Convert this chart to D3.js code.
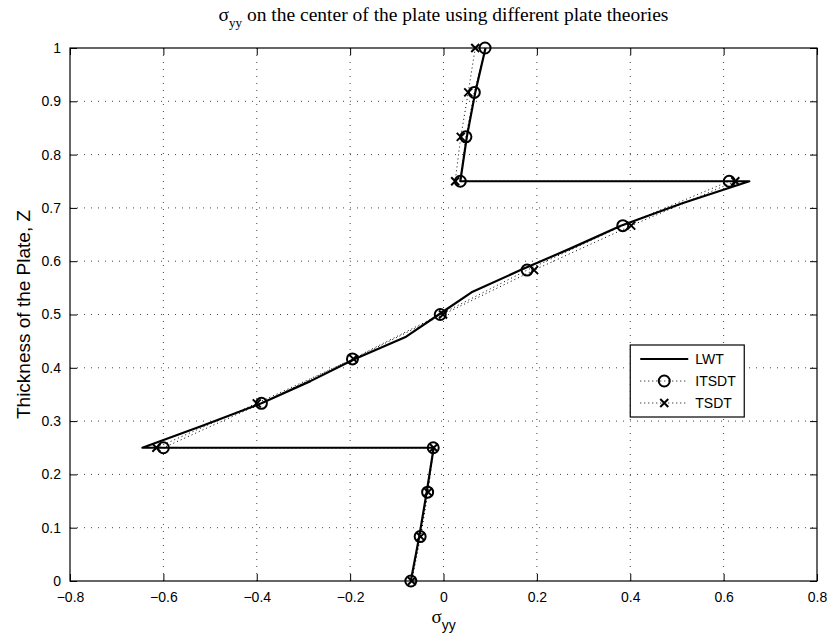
<!DOCTYPE html>
<html>
<head>
<meta charset="utf-8">
<script src="https://cdn.jsdelivr.net/npm/d3@7"></script>
<style>
  body { margin: 0; background: #fff; }
  text { fill: #000; }
</style>
</head>
<body>
<svg id="chart" width="833" height="638"></svg>
<script>
// Axis ticks
const xTicks = [-0.8, -0.6, -0.4, -0.2, 0, 0.2, 0.4, 0.6, 0.8];
const yTicks = [0, 0.1, 0.2, 0.3, 0.4, 0.5, 0.6, 0.7, 0.8, 0.9, 1];

// Thickness coordinates of the sampled points (three layers, interfaces repeated)
const plateZ = [0, 1/12, 2/12, 3/12,
                3/12, 4/12, 5/12, 6/12, 7/12, 8/12, 9/12,
                9/12, 10/12, 11/12, 1];

// sigma_yy by ITSDT
const itsdtS = [-0.070, -0.050, -0.034, -0.022,
                -0.600, -0.390, -0.195, -0.007, 0.179, 0.384, 0.612,
                0.036, 0.048, 0.066, 0.089];

// sigma_yy by TSDT
const tsdtS = [-0.068, -0.049, -0.033, -0.021,
               -0.615, -0.400, -0.193, -0.001, 0.194, 0.402, 0.625,
               0.025, 0.037, 0.053, 0.068];

// sigma_yy by LWT (finer sampling through the middle layer)
const lwtZ = [0, 1/12, 2/12, 3/12,
              6/24, 7/24, 8/24, 9/24, 10/24, 11/24, 12/24, 13/24, 14/24, 15/24, 16/24, 17/24, 18/24,
              9/12, 10/12, 11/12, 1];
const lwtS = [-0.070, -0.052, -0.036, -0.021,
              -0.645, -0.515, -0.390, -0.285, -0.190, -0.080, -0.010, 0.060, 0.165, 0.275, 0.380, 0.510, 0.655,
              0.036, 0.050, 0.068, 0.090];

const seriesNames = ["LWT", "ITSDT", "TSDT"];

const svg = d3.select("#chart");
const L = 70, R = 817, T = 48, B = 581;

const x = d3.scaleLinear().domain([-0.8, 0.8]).range([L, R]);
const y = d3.scaleLinear().domain([0, 1]).range([B, T]);

const sans = "Liberation Sans, Arial, Helvetica, sans-serif";
const serif = "Liberation Serif, Times New Roman, serif";
const fmt = v => (v < 0 ? "\u2212" : "") + d3.format("")(Math.abs(+v.toFixed(2)));

// dotted grid
const grid = svg.append("g").attr("stroke", "#444").attr("stroke-width", 1)
  .attr("stroke-dasharray", "1,6").attr("fill", "none");
xTicks.slice(1, -1).forEach(t => {
  grid.append("line").attr("x1", x(t)).attr("x2", x(t)).attr("y1", B).attr("y2", T);
});
yTicks.slice(1, -1).forEach(t => {
  grid.append("line").attr("y1", y(t)).attr("y2", y(t)).attr("x1", L).attr("x2", R);
});

// axes (ticks pointing inward on all four sides)
const tl = 7;
svg.append("g").attr("transform", `translate(0,${B})`)
  .call(d3.axisBottom(x).tickValues(xTicks).tickSizeInner(-tl).tickSizeOuter(0).tickPadding(11).tickFormat(fmt))
  .call(g => g.select(".domain").remove())
  .call(g => g.selectAll("text").attr("font-family", sans).attr("font-size", 14));
svg.append("g").attr("transform", `translate(0,${T})`)
  .call(d3.axisTop(x).tickValues(xTicks).tickSizeInner(-tl).tickSizeOuter(0).tickFormat(""))
  .call(g => g.select(".domain").remove());
svg.append("g").attr("transform", `translate(${L},0)`)
  .call(d3.axisLeft(y).tickValues(yTicks).tickSizeInner(-tl).tickSizeOuter(0).tickPadding(9).tickFormat(d3.format("")))
  .call(g => g.select(".domain").remove())
  .call(g => g.selectAll("text").attr("font-family", sans).attr("font-size", 14));
svg.append("g").attr("transform", `translate(${R},0)`)
  .call(d3.axisRight(y).tickValues(yTicks).tickSizeInner(-tl).tickSizeOuter(0).tickFormat(""))
  .call(g => g.select(".domain").remove());
svg.selectAll(".tick line").attr("stroke", "#000").attr("stroke-width", 1);

svg.append("rect").attr("x", L).attr("y", T).attr("width", R - L).attr("height", B - T)
  .attr("fill", "none").attr("stroke", "#000").attr("stroke-width", 1.2);

// curves
const line = d3.line().x(d => x(d[0])).y(d => y(d[1]));
const lwt = lwtS.map((s, i) => [s, lwtZ[i]]);
const itsdt = itsdtS.map((s, i) => [s, plateZ[i]]);
const tsdt = tsdtS.map((s, i) => [s, plateZ[i]]);

svg.append("path").datum(lwt).attr("d", line)
  .attr("fill", "none").attr("stroke", "#000").attr("stroke-width", 2.2).attr("stroke-linejoin", "round");
svg.append("path").datum(itsdt).attr("d", line)
  .attr("fill", "none").attr("stroke", "#000").attr("stroke-width", 1).attr("stroke-dasharray", "1,3");
svg.append("path").datum(tsdt).attr("d", line)
  .attr("fill", "none").attr("stroke", "#000").attr("stroke-width", 1).attr("stroke-dasharray", "1,3");

function circleMark(g, cx, cy) {
  g.append("circle").attr("cx", cx).attr("cy", cy).attr("r", 5.5)
    .attr("fill", "none").attr("stroke", "#000").attr("stroke-width", 2);
}
function crossMark(g, cx, cy) {
  const h = 4;
  g.append("path").attr("d", `M${cx - h},${cy - h}L${cx + h},${cy + h}M${cx - h},${cy + h}L${cx + h},${cy - h}`)
    .attr("stroke", "#000").attr("stroke-width", 2).attr("fill", "none");
}
const mk = svg.append("g");
itsdt.forEach(d => circleMark(mk, x(d[0]), y(d[1])));
tsdt.forEach(d => crossMark(mk, x(d[0]), y(d[1])));

// legend
const lg = svg.append("g");
const lx = x(0.4), ly = 345, lw = 114, lh = 72;
lg.append("rect").attr("x", lx).attr("y", ly).attr("width", lw).attr("height", lh)
  .attr("fill", "#fff").attr("stroke", "#000").attr("stroke-width", 1.2);
const rows = [ly + 14, ly + 36, ly + 58];
seriesNames.forEach((name, i) => {
  const ry = rows[i];
  const ln = lg.append("line").attr("x1", lx + 10).attr("x2", lx + 58).attr("y1", ry).attr("y2", ry)
    .attr("stroke", "#000");
  if (i === 0) ln.attr("stroke-width", 2.2);
  else ln.attr("stroke-width", 1).attr("stroke-dasharray", "1,3");
  if (i === 1) circleMark(lg, lx + 34, ry);
  if (i === 2) crossMark(lg, lx + 34, ry);
  lg.append("text").attr("x", lx + 65).attr("y", ry).attr("dy", "0.36em")
    .attr("font-family", sans).attr("font-size", 14).text(name);
});

// title
const title = svg.append("text").attr("x", (L + R) / 2).attr("y", 21)
  .attr("text-anchor", "middle").attr("font-family", serif).attr("font-size", 19.5);
title.append("tspan").text("\u03C3");
title.append("tspan").attr("dy", 6).attr("font-size", 13).text("yy");
title.append("tspan").attr("dy", -6).text(" on the center of the plate using different plate theories");

// axis labels
const xl = svg.append("text").attr("x", (L + R) / 2).attr("y", 623)
  .attr("text-anchor", "middle").attr("font-family", serif).attr("font-size", 19);
xl.append("tspan").text("\u03C3");
xl.append("tspan").attr("dy", 7).attr("font-size", 14).attr("font-family", sans).text("yy");

svg.append("text").attr("transform", `translate(30,${(T + B) / 2}) rotate(-90)`)
  .attr("text-anchor", "middle").attr("font-family", sans).attr("font-size", 19)
  .text("Thickness of the Plate, Z");
</script>
</body>
</html>
